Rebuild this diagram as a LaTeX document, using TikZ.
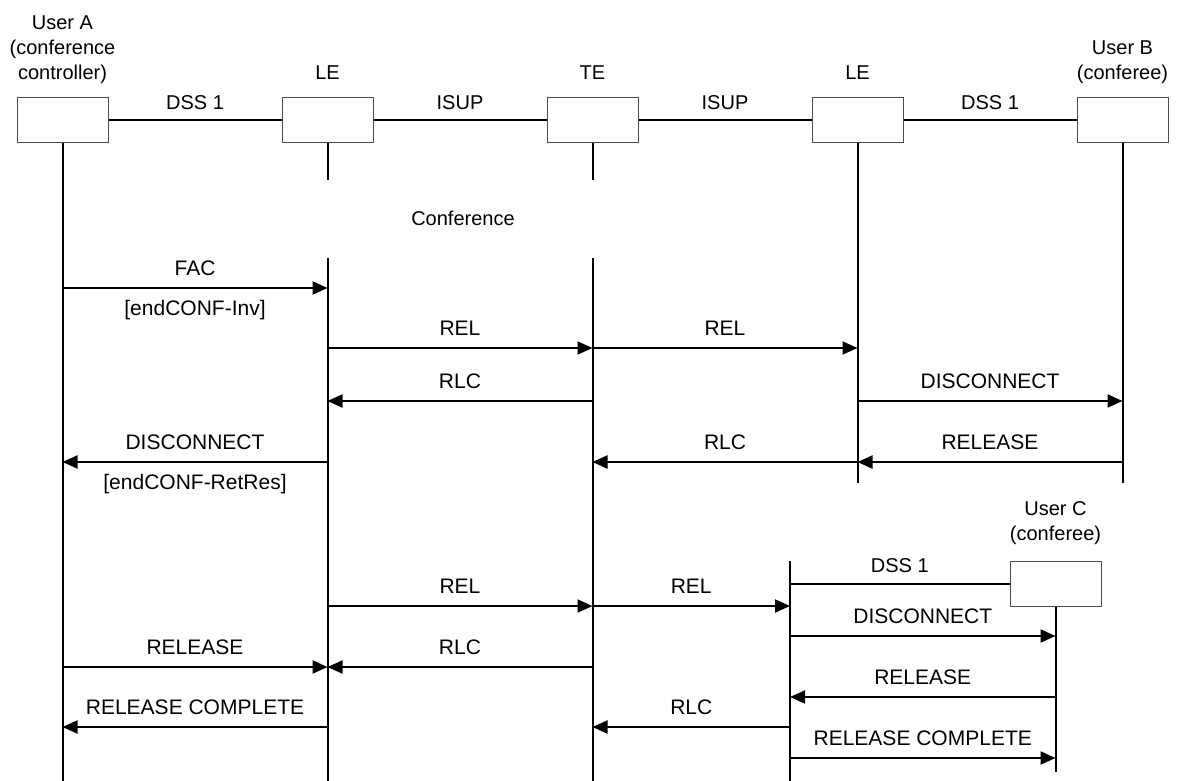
\documentclass[tikz,border=0pt]{standalone}
\usepackage{fontspec}
\setmainfont{Liberation Sans}
\usetikzlibrary{arrows.meta,positioning}

\begin{document}
\begin{tikzpicture}[
  x=0.5pt, y=-0.5pt,
  font=\fontsize{10}{12.5}\selectfont,
  entity/.style={draw=black!70,line width=0.5pt,minimum width=45.5pt,minimum height=22.5pt,inner sep=0pt},
  role/.style={align=center,inner sep=0pt,text depth=2pt},
  link/.style={line width=1pt},
  lifeline/.style={line width=1pt},
  msg/.style={-{Triangle[length=7.5pt,width=6.5pt]},line width=1pt},
  sig/.style={above=6pt,inner sep=0pt,text height=7.4pt,text depth=0pt,font=\fontsize{10.5}{12.5}\selectfont},
  sigbelow/.style={below=6pt,inner sep=0pt,text height=7.4pt,text depth=0pt,font=\fontsize{10.5}{12.5}\selectfont}
]
  \useasboundingbox (0,0) rectangle (1179,781);

  \node[entity] (ua) at (62.5,120.5) {};
  \node[entity] (le1) at (327.5,120.5) {};
  \node[entity] (te) at (592.5,120.5) {};
  \node[entity] (le2) at (857.5,120.5) {};
  \node[entity] (ub) at (1122.5,120.5) {};
  \node[entity] (uc) at (1055.5,583.5) {};

  \node[role,above=7pt of ua] (uaname) {User A\\(conference\\controller)};
  \node[role,above=7pt of le1] (le1name) {LE};
  \node[role,above=7pt of te] (tename) {TE};
  \node[role,above=7pt of le2] (le2name) {LE};
  \node[role,above=7pt of ub] (ubname) {User B\\(conferee)};
  \node[role,above=8pt of uc] (ucname) {User C\\(conferee)};
  \node (conf) at (463,218) {Conference};

  \coordinate (gapstart) at (0,180);
  \coordinate (gapend) at (0,258);
  \coordinate (midend) at (0,483);
  \coordinate (bottom) at (0,781);
  \coordinate (lec) at (790,561);
  \coordinate (ucend) at (0,772);

  \draw[link] (ua) -- node[sig,above=5pt,font=\fontsize{10}{12}\selectfont] {DSS 1} (le1);
  \draw[link] (le1) -- node[sig,above=5pt,font=\fontsize{10}{12}\selectfont] {ISUP} (te);
  \draw[link] (te) -- node[sig,above=5pt,font=\fontsize{10}{12}\selectfont] {ISUP} (le2);
  \draw[link] (le2) -- node[sig,above=5pt,font=\fontsize{10}{12}\selectfont] {DSS 1} (ub);
  \draw[link] (lec |- uc) -- node[sig,above=5pt,font=\fontsize{10}{12}\selectfont] {DSS 1} (uc);

  \draw[lifeline] (ua.south) -- (ua.south |- bottom);
  \draw[lifeline] (le1.south) -- (le1.south |- gapstart);
  \draw[lifeline] (le1.south |- gapend) -- (le1.south |- bottom);
  \draw[lifeline] (te.south) -- (te.south |- gapstart);
  \draw[lifeline] (te.south |- gapend) -- (te.south |- bottom);
  \draw[lifeline] (le2.south) -- (le2.south |- midend);
  \draw[lifeline] (ub.south) -- (ub.south |- midend);
  \draw[lifeline] (lec) -- (lec |- bottom);
  \draw[lifeline] (uc.south) -- (uc.south |- ucend);

  \coordinate (r1) at (0,288);
  \coordinate (r2) at (0,348);
  \coordinate (r3) at (0,401);
  \coordinate (r4) at (0,462);
  \coordinate (r5) at (0,606);
  \coordinate (r6) at (0,636);
  \coordinate (r7) at (0,667);
  \coordinate (r8) at (0,697);
  \coordinate (r9) at (0,727);
  \coordinate (r10) at (0,758);

  \draw[msg] (ua |- r1) -- node[sig] {FAC} node[sigbelow] {[endCONF-Inv]} (le1 |- r1);
  \draw[msg] (le1 |- r2) -- node[sig] {REL} (te |- r2);
  \draw[msg] (te |- r2) -- node[sig] {REL} (le2 |- r2);
  \draw[msg] (te |- r3) -- node[sig] {RLC} (le1 |- r3);
  \draw[msg] (le2 |- r3) -- node[sig] {DISCONNECT} (ub |- r3);
  \draw[msg] (le1 |- r4) -- node[sig] {DISCONNECT} node[sigbelow] {[endCONF-RetRes]} (ua |- r4);
  \draw[msg] (le2 |- r4) -- node[sig] {RLC} (te |- r4);
  \draw[msg] (ub |- r4) -- node[sig] {RELEASE} (le2 |- r4);

  \draw[msg] (le1 |- r5) -- node[sig] {REL} (te |- r5);
  \draw[msg] (te |- r5) -- node[sig] {REL} (lec |- r5);
  \draw[msg] (lec |- r6) -- node[sig] {DISCONNECT} (uc |- r6);
  \draw[msg] (ua |- r7) -- node[sig] {RELEASE} (le1 |- r7);
  \draw[msg] (te |- r7) -- node[sig] {RLC} (le1 |- r7);
  \draw[msg] (uc |- r8) -- node[sig] {RELEASE} (lec |- r8);
  \draw[msg] (le1 |- r9) -- node[sig] {RELEASE COMPLETE} (ua |- r9);
  \draw[msg] (lec |- r9) -- node[sig] {RLC} (te |- r9);
  \draw[msg] (lec |- r10) -- node[sig] {RELEASE COMPLETE} (uc |- r10);
\end{tikzpicture}
\end{document}
